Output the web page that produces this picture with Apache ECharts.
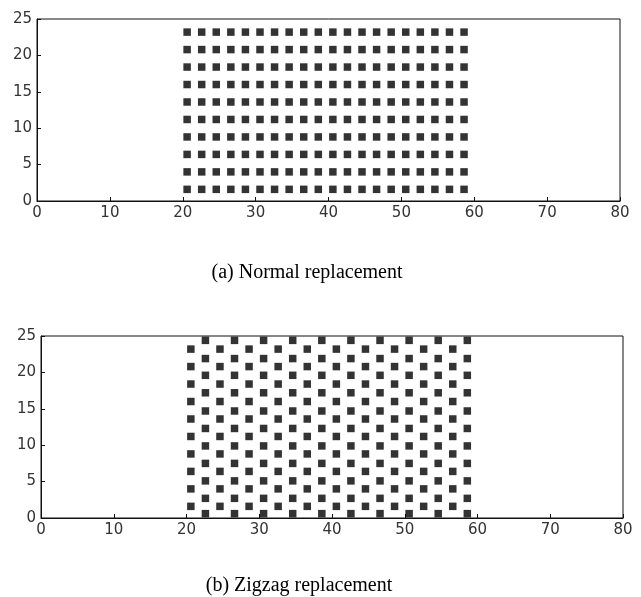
<!DOCTYPE html>
<html>
<head>
<meta charset="utf-8">
<script src="https://cdn.jsdelivr.net/npm/echarts@6/dist/echarts.min.js"></script>
<style>
  html, body { margin: 0; padding: 0; background: #fff; }
  #main { width: 641px; height: 597px; }
</style>
</head>
<body>
<div id="main"></div>
<script>
// (a) normal layout: every column has the same rows
var normalCols = [20.6, 22.6, 24.6, 26.6, 28.6, 30.6, 32.6, 34.6, 36.6, 38.6,
                  40.6, 42.6, 44.6, 46.6, 48.6, 50.6, 52.6, 54.6, 56.6, 58.6]
var normalRows = [1.6, 4.0, 6.4, 8.8, 11.2, 13.6, 16.0, 18.4, 20.8, 23.2]

// (b) zigzag layout: two interleaved sets of columns
var zigColsA = [20.6, 24.6, 28.6, 32.6, 36.6, 40.6, 44.6, 48.6, 52.6, 56.6]
var zigRowsA = [1.6, 4.0, 6.4, 8.8, 11.2, 13.6, 16.0, 18.4, 20.8, 23.2]
var zigColsB = [22.6, 26.6, 30.6, 34.6, 38.6, 42.6, 46.6, 50.6, 54.6, 58.6]
var zigRowsB = [0.6, 2.7, 5.1, 7.5, 9.9, 12.3, 14.7, 17.2, 19.6, 21.9, 24.4]

var xTicks = [0, 10, 20, 30, 40, 50, 60, 70, 80]
var yTicks = [0, 5, 10, 15, 20, 25]

var captions = ['(a) Normal replacement', '(b) Zigzag replacement']

function grid2pts(cols, rows){
  var pts = []
  for(var i=0; i<cols.length; i++){
    for(var j=0; j<rows.length; j++){
      pts.push([cols[i], rows[j]])
    }
  }
  return pts
}

var chart = echarts.init(document.getElementById('main'), null, {renderer: 'canvas'})

var labelFont = {color: '#333', fontFamily: 'DejaVu Sans', fontSize: 15}

function xAxisOf(idx){
  return {
    type: 'value', gridIndex: idx,
    min: xTicks[0], max: xTicks[xTicks.length-1], interval: xTicks[1]-xTicks[0],
    axisLine: {show: true, onZero: false, lineStyle: {color: '#111', width: 1}},
    axisTick: {show: true, inside: true, length: 4, lineStyle: {color: '#111'}},
    axisLabel: Object.assign({margin: 5}, labelFont),
    splitLine: {show: false}
  }
}
function yAxisOf(idx){
  return {
    type: 'value', gridIndex: idx,
    min: yTicks[0], max: yTicks[yTicks.length-1], interval: yTicks[1]-yTicks[0],
    axisLine: {show: true, onZero: false, lineStyle: {color: '#111', width: 1}},
    axisTick: {show: true, inside: true, length: 4, lineStyle: {color: '#111'}},
    axisLabel: Object.assign({margin: 5}, labelFont),
    splitLine: {show: false}
  }
}

var dot = {
  type: 'scatter', symbol: 'rect', symbolSize: 7.5,
  itemStyle: {color: '#000'}, silent: true
}

var option = {
  animation: false,
  backgroundColor: '#fff',
  grid: [
    {left: 37, top: 19, width: 583, height: 182, show: true, borderColor: '#111', borderWidth: 1},
    {left: 41, top: 336, width: 582, height: 182, show: true, borderColor: '#111', borderWidth: 1}
  ],
  xAxis: [xAxisOf(0), xAxisOf(1)],
  yAxis: [yAxisOf(0), yAxisOf(1)],
  series: [
    Object.assign({xAxisIndex: 0, yAxisIndex: 0, data: grid2pts(normalCols, normalRows)}, dot),
    Object.assign({xAxisIndex: 1, yAxisIndex: 1, data: grid2pts(zigColsA, zigRowsA)}, dot),
    Object.assign({xAxisIndex: 1, yAxisIndex: 1, data: grid2pts(zigColsB, zigRowsB)}, dot)
  ],
  graphic: [
    {type: 'text', x: 307, y: 273, style: {text: captions[0], fill: '#000',
      font: '20px "Liberation Serif"', textAlign: 'center', textVerticalAlign: 'middle'}},
    {type: 'text', x: 299, y: 586, style: {text: captions[1], fill: '#000',
      font: '20px "Liberation Serif"', textAlign: 'center', textVerticalAlign: 'middle'}}
  ]
}

chart.setOption(option)
</script>
</body>
</html>
